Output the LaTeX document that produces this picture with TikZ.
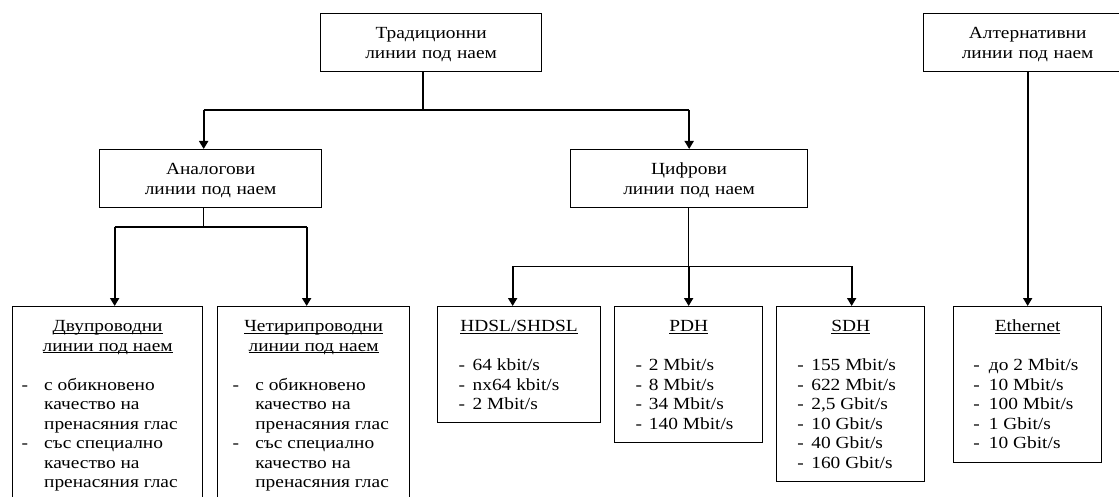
\documentclass[tikz,border=0pt]{standalone}
\usepackage{fontspec}
\setmainfont{Liberation Serif}[FakeStretch=1.14]
\usetikzlibrary{arrows.meta,calc}

\newlength\dshin
\newlength\dshgap
\newsavebox\ulbox
\newcommand\ultext[1]{\leavevmode\sbox\ulbox{#1}\rlap{\rule[-2.2pt]{\wd\ulbox}{0.9pt}}\usebox\ulbox}
\newcommand\itm[1]{\hspace*{\dshin}\makebox[\dshgap][l]{-}#1}
\newcommand\cnt[1]{\hspace*{\dshin}\hspace*{\dshgap}#1}

\begin{document}
\begin{tikzpicture}[x=1pt,y=-1pt,
	box/.style={draw,line width=1.3pt,inner sep=0pt,anchor=north west,align=center,
		text height=24.7pt,text depth=33.3pt,font=\fontsize{17}{20.6}\selectfont},
	leaf/.style={draw,line width=1.3pt,inner sep=0pt,anchor=north west,
		text height=25pt,font=\fontsize{17}{19.5}\selectfont},
	link/.style={line width=1pt},
	arr/.style={line width=1.8pt,-{Triangle[length=8pt,width=9pt]}}]
		\useasboundingbox[fill=white] (0,0) rectangle (1119,497);
		\node[box,text width=221pt] (trad) at (320,13) {Традиционни\\линии под наем};
		\node[box,text width=208pt] (alt) at (923,13) {Алтернативни\\линии под наем};
		\node[box,text width=222pt] (analog) at (99,149) {Аналогови\\линии под наем};
		\node[box,text width=237pt] (digital) at (570,149) {Цифрови\\линии под наем};
		% leaves
		\node[leaf,text depth=189pt] (twowire) at (12,306) {\begin{minipage}[t]{190pt}\centering
			\ultext{Двупроводни}\\\ultext{линии под наем}\par\vspace{\baselineskip}
			\raggedright\setlength\dshin{9pt}\setlength\dshgap{22.5pt}%
			\itm{с обикновено}\\\cnt{качество на}\\\cnt{пренасяния глас}\\
			\itm{със специално}\\\cnt{качество на}\\\cnt{пренасяния глас}\end{minipage}};
		\node[leaf,text depth=189pt] (fourwire) at (217,306) {\begin{minipage}[t]{192pt}\centering
			\ultext{Четирипроводни}\\\ultext{линии под наем}\par\vspace{\baselineskip}
			\raggedright\setlength\dshin{15pt}\setlength\dshgap{22.7pt}%
			\itm{с обикновено}\\\cnt{качество на}\\\cnt{пренасяния глас}\\
			\itm{със специално}\\\cnt{качество на}\\\cnt{пренасяния глас}\end{minipage}};
		\node[leaf,text depth=91pt] (hdsl) at (437,306) {\begin{minipage}[t]{163pt}\centering
			\ultext{HDSL/SHDSL}\par\vspace{\baselineskip}
			\raggedright\setlength\dshin{21pt}\setlength\dshgap{14pt}%
			\itm{64 kbit/s}\\\itm{nx64 kbit/s}\\\itm{2 Mbit/s}\end{minipage}};
		\node[leaf,text depth=111pt] (pdh) at (614,306) {\begin{minipage}[t]{148pt}\centering
			\ultext{PDH}\par\vspace{\baselineskip}
			\raggedright\setlength\dshin{21pt}\setlength\dshgap{13.3pt}%
			\itm{2 Mbit/s}\\\itm{8 Mbit/s}\\\itm{34 Mbit/s}\\\itm{140 Mbit/s}\end{minipage}};
		\node[leaf,text depth=150pt] (sdh) at (776,306) {\begin{minipage}[t]{148pt}\centering
			\ultext{SDH}\par\vspace{\baselineskip}
			\raggedright\setlength\dshin{20.7pt}\setlength\dshgap{14pt}%
			\itm{155 Mbit/s}\\\itm{622 Mbit/s}\\\itm{2,5 Gbit/s}\\\itm{10 Gbit/s}\\
			\itm{40 Gbit/s}\\\itm{160 Gbit/s}\end{minipage}};
		\node[leaf,text depth=131pt] (ethernet) at (953,306) {\begin{minipage}[t]{148pt}\centering
			\ultext{Ethernet}\par\vspace{\baselineskip}
			\raggedright\setlength\dshin{19.7pt}\setlength\dshgap{15.6pt}%
			\itm{до 2 Mbit/s}\\\itm{10 Mbit/s}\\\itm{100 Mbit/s}\\\itm{1 Gbit/s}\\
			\itm{10 Gbit/s}\end{minipage}};
		% connectors
		\coordinate (trfork) at (423,110);
		\draw[link,line width=1.3pt] (trad.south -| trfork) -- (trfork);
		\draw[link,line width=1.3pt] ([xshift=-7pt]analog.north |- trfork) -- (digital.north |- trfork);
		\draw[arr] ([xshift=-7pt]analog.north |- trfork) -- ([xshift=-7pt]analog.north);
		\draw[arr] (digital.north |- trfork) -- (digital.north);
		\coordinate (anfork) at (203,227);
		\draw[link] (analog.south -| anfork) -- (anfork);
		\draw[line width=1.8pt] ([xshift=7pt]twowire.north |- anfork) -- ([xshift=-7pt]fourwire.north |- anfork);
		\draw[arr] ([xshift=7pt]twowire.north |- anfork) -- ([xshift=7pt]twowire.north);
		\draw[arr] ([xshift=-7pt]fourwire.north |- anfork) -- ([xshift=-7pt]fourwire.north);
		\coordinate (difork) at (688,266);
		\draw[link] (digital.south -| difork) -- (difork);
		\draw[link] ([xshift=-6.5pt]hdsl.north |- difork) -- ([xshift=1pt]sdh.north |- difork);
		\draw[arr] ([xshift=-6.5pt]hdsl.north |- difork) -- ([xshift=-6.5pt]hdsl.north);
		\draw[arr] (pdh.north |- difork) -- (pdh.north);
		\draw[arr] ([xshift=1pt]sdh.north |- difork) -- ([xshift=1pt]sdh.north);
		\draw[arr] (alt.south -| ethernet.north) -- (ethernet.north);
\end{tikzpicture}
\end{document}
